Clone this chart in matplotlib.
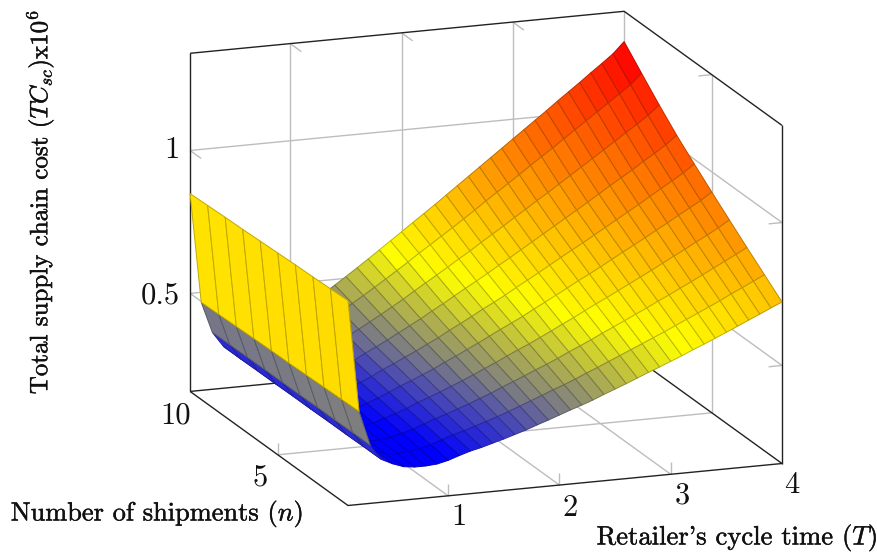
import numpy as np
import matplotlib
matplotlib.use('Agg')
import matplotlib.pyplot as plt
import matplotlib.patheffects as pe
from matplotlib.colors import LinearSegmentedColormap
from mpl_toolkits.mplot3d import proj3d

plt.rcParams['mathtext.fontset'] = 'cm'

W, H = 877, 554

# retailer's cycle time, number of shipments
t_values = [0.1, 0.2, 0.3, 0.4, 0.5, 0.6, 0.7, 0.8, 0.9, 1.0,
            1.1, 1.2, 1.3, 1.4, 1.5, 1.6, 1.7, 1.8, 1.9, 2.0,
            2.1, 2.2, 2.3, 2.4, 2.5, 2.6, 2.7, 2.8, 2.9, 3.0,
            3.1, 3.2, 3.3, 3.4, 3.5, 3.6, 3.7, 3.8, 3.9, 4.0]
n_values = [1, 2, 3, 4, 5, 6, 7, 8, 9, 10]

# cost x10^6, one row per T, one column per n
tc_values = [
    [.874, .871, .868, .866, .863, .860, .857, .855, .852, .849],
    [.482, .480, .478, .476, .474, .473, .471, .469, .467, .465],
    [.360, .360, .359, .359, .358, .358, .358, .357, .357, .356],
    [.307, .307, .306, .306, .305, .305, .304, .304, .303, .303],
    [.288, .288, .287, .287, .286, .286, .285, .285, .285, .285],
    [.274, .274, .275, .275, .276, .277, .279, .282, .286, .291],
    [.269, .272, .275, .279, .283, .288, .293, .298, .304, .310],
    [.269, .275, .280, .286, .293, .299, .306, .313, .321, .329],
    [.272, .281, .290, .299, .307, .315, .324, .333, .343, .353],
    [.281, .291, .302, .312, .322, .332, .342, .353, .365, .377],
    [.294, .305, .316, .326, .338, .349, .361, .374, .388, .402],
    [.306, .318, .331, .343, .356, .369, .382, .397, .413, .429],
    [.315, .329, .343, .357, .371, .386, .401, .418, .436, .454],
    [.326, .341, .357, .372, .388, .405, .421, .440, .460, .480],
    [.337, .354, .371, .388, .405, .423, .442, .462, .484, .506],
    [.349, .367, .386, .404, .424, .443, .463, .485, .509, .533],
    [.361, .381, .401, .421, .442, .462, .484, .508, .534, .560],
    [.375, .396, .418, .439, .461, .484, .507, .533, .560, .588],
    [.388, .411, .434, .456, .480, .504, .529, .557, .586, .616],
    [.402, .426, .450, .475, .500, .525, .552, .581, .613, .644],
    [.416, .442, .467, .493, .520, .547, .575, .605, .639, .672],
    [.429, .456, .483, .510, .539, .567, .597, .630, .665, .700],
    [.443, .472, .500, .529, .558, .588, .620, .654, .691, .728],
    [.459, .489, .519, .548, .580, .611, .644, .680, .718, .757],
    [.474, .505, .536, .568, .600, .633, .667, .705, .745, .786],
    [.489, .522, .554, .587, .621, .655, .691, .730, .773, .815],
    [.505, .539, .573, .607, .642, .678, .715, .756, .800, .844],
    [.521, .556, .591, .627, .664, .701, .739, .781, .827, .873],
    [.536, .573, .609, .646, .684, .723, .763, .807, .854, .902],
    [.552, .590, .628, .666, .705, .745, .787, .832, .882, .931],
    [.568, .607, .646, .686, .727, .768, .811, .858, .909, .960],
    [.585, .625, .666, .706, .749, .791, .835, .884, .936, .989],
    [.601, .643, .684, .726, .770, .814, .860, .910, .964, 1.018],
    [.618, .661, .704, .747, .792, .837, .885, .936, .992, 1.048],
    [.635, .679, .723, .768, .814, .860, .909, .962, 1.020, 1.077],
    [.652, .697, .743, .788, .836, .884, .933, .988, 1.047, 1.106],
    [.670, .717, .763, .810, .859, .908, .959, 1.015, 1.075, 1.136],
    [.687, .735, .783, .830, .881, .931, .983, 1.041, 1.103, 1.165],
    [.705, .754, .803, .852, .903, .955, 1.009, 1.068, 1.131, 1.195],
    [.722, .773, .824, .876, .929, .983, 1.039, 1.101, 1.167, 1.234],
]

t_ticks = [1, 2, 3]
n_ticks = [5]
z_ticks = [0.5, 1]

T0, T1 = 0.1, 4
N0, N1 = 1, 10
Z0, Z1 = 0.157, 1.34

BLACK = '#222222'
GRAY = '#bdbdbd'

fig = plt.figure(figsize=(W / 100, H / 100), dpi=100)
fig.patch.set_facecolor('white')
ax = fig.add_axes([0, (H - W) / 2 / H, 1, W / H], projection='3d', proj_type='ortho')
ax.computed_zorder = False
ax.set_axis_off()
ax.set_xlim(T0, T1, view_margin=0)
ax.set_ylim(N0, N1, view_margin=0)
ax.set_zlim(Z0, Z1, view_margin=0)
ax.set_box_aspect((462, 459.3, 350.5))
ax.view_init(elev=15.33, azim=249.9)


def line(xs, ys, zs, color, zorder=1):
    ax.plot(xs, ys, zs, color=color, lw=1.0, zorder=zorder, solid_capstyle='butt')


# grid on the floor and the two back walls
for t in t_ticks:
    line([t, t], [N0, N1], [Z0, Z0], GRAY)
    line([t, t], [N1, N1], [Z0, Z1], GRAY)
    line([t, t], [N0, N0], [Z0, Z0 + 0.042], GRAY)
    line([t, t], [N1, N1 - 0.63], [Z1, Z1], GRAY)
for n in n_ticks:
    line([T0, T1], [n, n], [Z0, Z0], GRAY)
    line([T1, T1], [n, n], [Z0, Z1], GRAY)
    line([T0, T0], [n, n], [Z0, Z0 + 0.042], GRAY)
    line([T1, T1 - 0.12], [n, n], [Z1, Z1], GRAY)
for z in z_ticks:
    line([T0, T1], [N1, N1], [z, z], GRAY)
    line([T1, T1], [N0, N1], [z, z], GRAY)
    line([T0, T0], [N1, N1 - 0.63], [z, z], GRAY)
    line([T1, T1 - 0.12], [N0, N0], [z, z], GRAY)
line([T1, T1], [N1, N1], [Z0, Z1], GRAY)

# box outline
line([T0, T1, T1], [N1, N1, N0], [Z1, Z1, Z1], BLACK, 1.5)
line([T0, T0], [N1, N1], [Z0, Z1], BLACK, 1.5)
line([T1, T1], [N0, N0], [Z0, Z1], BLACK, 1.5)
line([T0, T0, T1, T1], [N1, N0, N0, N1], [Z0, Z0, Z0, Z0], BLACK, 1.5)
line([T0, T1], [N1, N1], [Z0, Z0], BLACK, 1.5)

# surface, flat cells coloured by their mean height
T, N = np.meshgrid(t_values, n_values, indexing='ij')
Z = np.array(tc_values)
cmap = LinearSegmentedColormap.from_list('byr', ['#0000ff', '#ffff00', '#ff0000'])
mean_z = (Z[:-1, :-1] + Z[1:, :-1] + Z[:-1, 1:] + Z[1:, 1:]) / 4
cell_t = np.interp(mean_z, [0.285, 0.415, 0.59, 1.21], [0, 0.24, 0.5, 1])
faces = cmap(cell_t)
edges = faces.copy()
edges[..., :3] *= 0.75
surf = ax.plot_surface(T, N, Z, rstride=1, cstride=1, facecolors=faces, shade=False,
                       linewidth=0.7, antialiased=True, zorder=2)
surf.set_edgecolor(edges.reshape(-1, 4))

# fit the box on the canvas: front corner and right corner of the floor
fig.canvas.draw()


def to_px(x, y, z):
    px, py, _ = proj3d.proj_transform(x, y, z, ax.get_proj())
    return ax.transData.transform((px, py))


front = to_px(T0, N0, Z0)
right = to_px(T1, N0, Z0)
k = 434 / (right[0] - front[0])
side = W * k
c = np.array([W / 2, H / 2])
new_c = np.array([348, H - 505.5]) - k * (front - c)
ax.set_position([(new_c[0] - side / 2) / W, (new_c[1] - side / 2) / H, side / W, side / H])


def label(px, py, s, size=22, **kw):
    return fig.text(px / W, 1 - py / H, s, family='cmr10', fontsize=size, color='#111111',
                    ha='center', va='center', **kw)


for s, px, py in zip(['1', '2', '3', '4'], [459, 570, 682, 792], [517, 508, 496, 485]):
    label(px, py, s)
for s, px, py in zip(['10', '5'], [176, 260], [416, 478]):
    label(px, py, s)
for s, px, py in zip(['1', '0.5'], [172, 160], [150, 296]):
    label(px, py, s)

titles = [
    label(157, 514, r'Number of shipments $(n)$', size=19),
    label(737, 538, r"Retailer's cycle time $(T)$", size=19.2),
    label(40, 202, r'Total supply chain cost $(TC_{sc})\mathrm{x}10^6$', size=18, rotation=90),
]
for t in titles:
    t.set_path_effects([pe.withStroke(linewidth=0.3, foreground='#111111')])

fig.savefig('out.png', dpi=100)
